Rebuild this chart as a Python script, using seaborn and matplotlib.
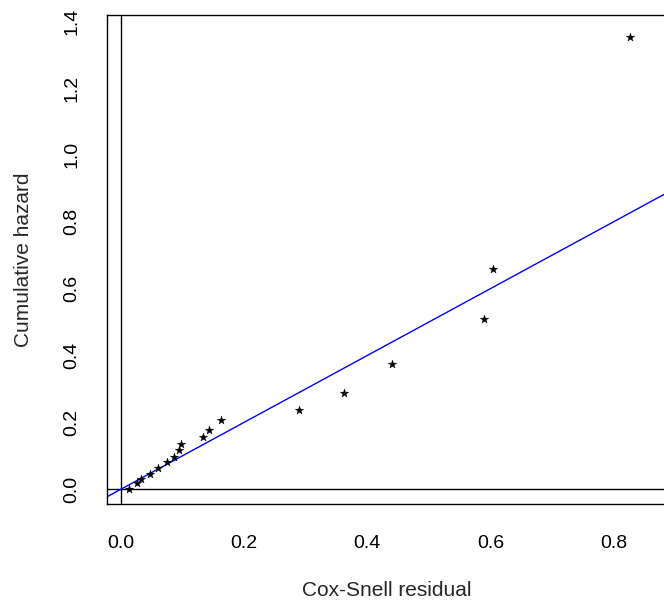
import numpy as np
import pandas as pd
import matplotlib
matplotlib.use("Agg")
import matplotlib.pyplot as plt
import seaborn as sns

# Cox-Snell residuals vs Nelson-Aalen cumulative hazard
cox_snell = [0.013, 0.027, 0.033, 0.048, 0.061, 0.075, 0.086, 0.094, 0.098,
             0.134, 0.144, 0.163, 0.290, 0.362, 0.440, 0.589, 0.604, 0.827]
cum_hazard = [0.002, 0.019, 0.030, 0.046, 0.064, 0.081, 0.096, 0.117, 0.135,
              0.156, 0.176, 0.206, 0.238, 0.289, 0.375, 0.510, 0.659, 1.353]
x_ticks = [0.0, 0.2, 0.4, 0.6, 0.8]
y_ticks = [0.0, 0.2, 0.4, 0.6, 0.8, 1.0, 1.2, 1.4]

df = pd.DataFrame({"resid": cox_snell, "haz": cum_hazard})

sns.set_style("white")
plt.rcParams["font.family"] = ["Liberation Sans", "DejaVu Sans"]

fig = plt.figure(figsize=(6.64, 6.08), dpi=100)
ax = fig.add_axes([0.1611, 0.1715, 0.8420, 0.8038])

sns.scatterplot(data=df, x="resid", y="haz", marker="*", s=40,
                color="black", edgecolor="black", linewidth=0.3, ax=ax, zorder=3)

ax.axhline(0, color="black", lw=1)
ax.axvline(0, color="black", lw=1)
ax.axline((0, 0), slope=1, color="blue", lw=1)

ax.set_xlim(-0.0223, 0.885)
ax.set_ylim(-0.043, 1.418)
ax.set_xticks(x_ticks)
ax.set_yticks(y_ticks)
ax.set_xticklabels([f"{v:.1f}" for v in x_ticks])
ax.set_yticklabels([f"{v:.1f}" for v in y_ticks], rotation=90, va="center")

ax.tick_params(axis="both", direction="out", length=8, width=1, color="black",
               labelsize=14, labelcolor="black")
ax.tick_params(axis="x", pad=14.5)
ax.tick_params(axis="y", pad=11)

for s in ax.spines.values():
    s.set_color("black")
    s.set_linewidth(1)

ax.set_xlabel("Cox-Snell residual", fontsize=15, va="top")
ax.set_ylabel("Cumulative hazard", fontsize=15, va="bottom")
ax.xaxis.set_label_coords(0.5, -0.158)
ax.yaxis.set_label_coords(-0.133, 0.5)

fig.savefig("out.png", dpi=100)
